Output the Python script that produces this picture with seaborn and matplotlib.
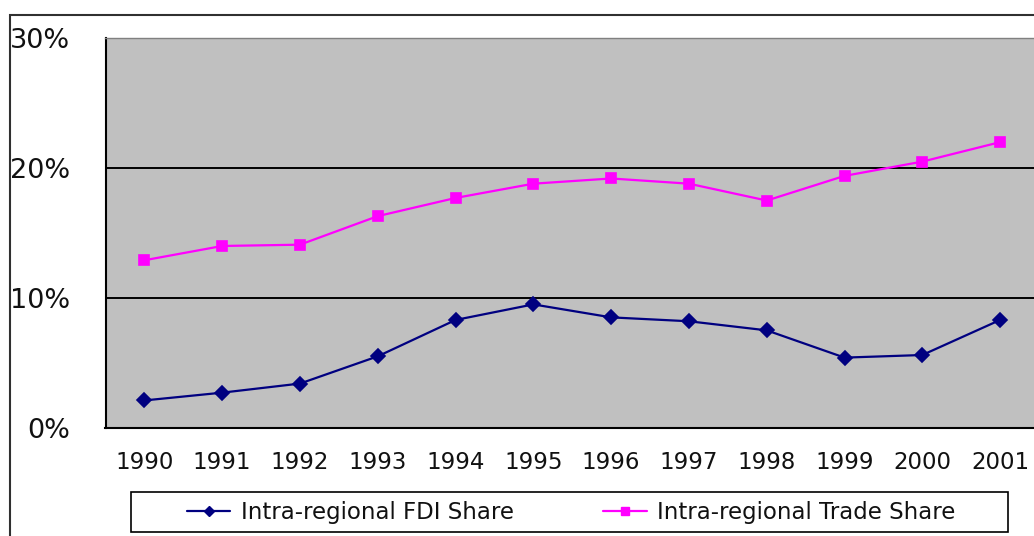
import numpy as np
import pandas as pd
import seaborn as sns
import matplotlib.pyplot as plt
from matplotlib.lines import Line2D
from matplotlib.patches import Rectangle

# veriler (%)
years = ['1990', '1991', '1992', '1993', '1994', '1995',
         '1996', '1997', '1998', '1999', '2000', '2001']
fdi_share = [2.1, 2.7, 3.4, 5.5, 8.3, 9.5, 8.5, 8.2, 7.5, 5.4, 5.6, 8.3]
trade_share = [12.9, 14.0, 14.1, 16.3, 17.7, 18.8, 19.2, 18.8, 17.5, 19.4, 20.5, 22.0]
series_names = ['Intra-regional FDI Share', 'Intra-regional Trade Share']
series_colors = ['#000080', '#FF00FF']
series_markers = ['D', 's']
y_ticks = [0, 10, 20, 30]
y_ticklabels = ['0%', '10%', '20%', '30%']

sns.set_theme(style='white')
plt.rcParams['font.family'] = ['DejaVu Sans']

df = pd.DataFrame({
    'year': years * 2,
    'share': fdi_share + trade_share,
    'series': [series_names[0]] * len(years) + [series_names[1]] * len(years),
})

W, H = 1034, 536
fig = plt.figure(figsize=(W / 100, H / 100), dpi=100)
fig.patch.set_facecolor('white')

# grafik alani (sag kenar resmin disina tasiyor)
left, right, top, bottom = 105.5, 1039, 38.3, 427.7
ax = fig.add_axes([left / W, (H - bottom) / H, (right - left) / W, (bottom - top) / H])
ax.set_facecolor('#C0C0C0')

sns.pointplot(data=df, x='year', y='share', hue='series', hue_order=series_names,
              palette=dict(zip(series_names, series_colors)),
              markers=series_markers, linestyles=['-', '-'],
              markersize=7.5, linewidth=1.6, errorbar=None, legend=False, ax=ax)

ax.set_ylim(0, 30)
ax.set_xlim(-0.5, len(years) - 0.5)
ax.set_xlabel('')
ax.set_ylabel('')

# y ekseni: etiketler saga hizali, eksenden uzakta
ax.set_yticks(y_ticks)
ax.set_yticklabels(y_ticklabels, ha='right')
ax.tick_params(axis='y', direction='in', length=6.5, width=1.2, color='black',
               pad=25.6, labelsize=19.5, labelcolor='#111111')
ax.yaxis.grid(True, color='black', linewidth=1.4)
ax.get_ygridlines()[0].set_visible(False)
ax.get_ygridlines()[-1].set_visible(False)
ax.set_axisbelow(True)

# x ekseni: etiketler ortada, cizgiler kategori sinirlarinda
ax.set_xticks(np.arange(len(years)))
ax.set_xticklabels(years)
ax.set_xticks(np.arange(len(years) - 1) + 0.5, minor=True)
ax.tick_params(axis='x', which='major', length=0, pad=16.5, labelsize=16.5,
               labelcolor='#111111')
ax.tick_params(axis='x', which='minor', direction='in', length=3.6, width=1.2,
               color='black')

for side in ['left', 'bottom']:
    ax.spines[side].set_color('black')
    ax.spines[side].set_linewidth(1.5)
ax.spines['top'].set_color('#808080')
ax.spines['top'].set_linewidth(1.0)
ax.spines['right'].set_visible(False)

# dis cerceve
fig.add_artist(Rectangle((9.5 / W, -0.1), 1.2, (H - 14.5) / H + 0.1,
                         transform=fig.transFigure, fill=False,
                         edgecolor='#303030', linewidth=1.5))

# lejant kutusu
fig.add_artist(Rectangle((131 / W, (H - 532) / H), (1008 - 131) / W, 40 / H,
                         transform=fig.transFigure, fill=False,
                         edgecolor='black', linewidth=1.2))
handles = [Line2D([], [], color=c, marker=m, markersize=5.5, linewidth=1.6)
           for c, m in zip(series_colors, series_markers)]
fig.legend(handles, series_names, loc='center', ncol=2, frameon=False,
           bbox_to_anchor=(571 / W, (H - 513) / H), fontsize=16.5,
           handlelength=1.9, handletextpad=0.45, columnspacing=3.9,
           borderpad=0, borderaxespad=0, labelcolor='#111111')

fig.savefig('out.png', dpi=100)
